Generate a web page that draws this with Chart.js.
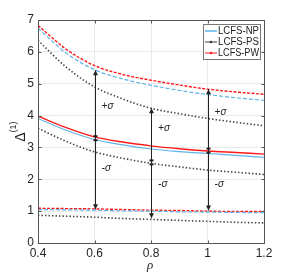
<!DOCTYPE html>
<html>
<head>
<meta charset="utf-8">
<script src="https://cdn.jsdelivr.net/npm/chart.js@4.4.1/dist/chart.umd.min.js"></script>
<style>
  html, body { margin: 0; padding: 0; background: #fff; }
  #wrap { width: 291px; height: 274px; }
</style>
</head>
<body>
<div id="wrap"><canvas id="c" width="291" height="274"></canvas></div>
<script>
// rho values
const rho = [0.4, 0.5, 0.6, 0.7, 0.8, 0.9, 1.0, 1.1, 1.2];

// upper curves (+sigma), dashed
const npUpper = [6.74, 5.96, 5.44, 5.15, 4.95, 4.79, 4.66, 4.56, 4.48];
const psUpper = [6.36, 5.52, 4.90, 4.52, 4.23, 4.06, 3.91, 3.79, 3.68];
const pwUpper = [6.83, 6.08, 5.57, 5.29, 5.11, 4.96, 4.83, 4.74, 4.67];

// mean curves, solid
const npMean = [3.91, 3.54, 3.25, 3.08, 2.95, 2.87, 2.81, 2.75, 2.69];
const psMean = [3.60, 3.19, 2.86, 2.66, 2.50, 2.39, 2.29, 2.22, 2.15];
const pwMean = [3.98, 3.62, 3.33, 3.17, 3.05, 2.96, 2.89, 2.84, 2.79];

// lower curves (-sigma)
const npLower = [1.05, 1.04, 1.03, 1.01, 1.00, 0.98, 0.97, 0.96, 0.95];
const psLower = [0.87, 0.84, 0.81, 0.77, 0.74, 0.71, 0.68, 0.65, 0.63];
const pwLower = [1.09, 1.08, 1.07, 1.05, 1.03, 1.02, 1.00, 0.99, 0.99];

// sigma arrows: x, top, mean, bottom
const arrowX = [0.6, 0.8, 1.0];
const arrowTop = [5.42, 4.23, 4.83];
const arrowMid = [3.29, 2.53, 2.90];
const arrowBot = [1.06, 0.78, 1.02];
// label positions
const plusPos = [[0.625, 4.3], [0.825, 3.6], [1.025, 4.1]];
const minusPos = [[0.625, 2.35], [0.825, 1.85], [1.025, 1.85]];

const xTicks = ['0.4', '0.6', '0.8', '1', '1.2'];
const legendNames = ['LCFS-NP', 'LCFS-PS', 'LCFS-PW'];

const cNP = '#5fb4e8';
const cPS = '#404040';
const cPW = '#ff1a1a';

function pts(ys) {
  return rho.map((x, i) => ({x: x, y: ys[i]}));
}

function ds(ys, color, dash, width) {
  return {
    data: pts(ys),
    borderColor: color,
    borderWidth: width,
    borderDash: dash,
    pointRadius: 0,
    fill: false,
    cubicInterpolationMode: 'monotone'
  };
}

const datasets = [
  ds(npUpper, cNP, [4, 2], 1.2),
  ds(npMean, cNP, [], 1.2),
  ds(npLower, cNP, [4, 2], 1.2),
  ds(psUpper, cPS, [1.4, 2.1], 1.6),
  ds(psMean, cPS, [1.4, 2.1], 1.6),
  ds(psLower, cPS, [1.4, 2.1], 1.6),
  ds(pwUpper, cPW, [3, 1.5], 1.4),
  ds(pwMean, cPW, [], 1.4),
  ds(pwLower, cPW, [3, 1.5], 1.4)
];

// box, inward ticks, arrows, labels, legend
const decor = {
  id: 'decor',
  afterDatasetsDraw(chart) {
    const {ctx, chartArea: a, scales: {x, y}} = chart;
    ctx.save();

    // sigma arrows
    ctx.strokeStyle = '#222';
    ctx.fillStyle = '#222';
    ctx.lineWidth = 1;
    arrowX.forEach((v, i) => {
      const px = Math.round(x.getPixelForValue(v)) + 0.5;
      const t = y.getPixelForValue(arrowTop[i]);
      const m = y.getPixelForValue(arrowMid[i]);
      const b = y.getPixelForValue(arrowBot[i]);
      ctx.beginPath();
      ctx.moveTo(px, t);
      ctx.lineTo(px, b);
      ctx.stroke();
      // heads
      ctx.beginPath();
      ctx.moveTo(px, t); ctx.lineTo(px - 2.5, t + 5); ctx.lineTo(px + 2.5, t + 5); ctx.closePath();
      ctx.fill();
      ctx.beginPath();
      ctx.moveTo(px, b); ctx.lineTo(px - 2.5, b - 5); ctx.lineTo(px + 2.5, b - 5); ctx.closePath();
      ctx.fill();
      // mean tail mark
      ctx.fillRect(px - 2, m - 3, 4, 2);
      ctx.fillRect(px - 2, m + 1, 4, 2);
    });

    ctx.font = 'italic 10px "Liberation Sans", Arial, sans-serif';
    ctx.textAlign = 'left';
    ctx.textBaseline = 'middle';
    plusPos.forEach(p => ctx.fillText('+σ', x.getPixelForValue(p[0]), y.getPixelForValue(p[1])));
    minusPos.forEach(p => ctx.fillText('-σ', x.getPixelForValue(p[0]), y.getPixelForValue(p[1])));

    // axes box
    ctx.strokeStyle = '#555';
    ctx.lineWidth = 1;
    const L = Math.round(a.left) + 0.5, R = Math.round(a.right) + 0.5;
    const T = Math.round(a.top) + 0.5, B = Math.round(a.bottom) + 0.5;
    ctx.strokeRect(L, T, R - L, B - T);
    ctx.beginPath();
    x.ticks.forEach(tk => {
      const px = Math.round(x.getPixelForValue(tk.value)) + 0.5;
      ctx.moveTo(px, B); ctx.lineTo(px, B - 3);
      ctx.moveTo(px, T); ctx.lineTo(px, T + 3);
    });
    y.ticks.forEach(tk => {
      const py = Math.round(y.getPixelForValue(tk.value)) + 0.5;
      ctx.moveTo(L, py); ctx.lineTo(L + 3, py);
      ctx.moveTo(R, py); ctx.lineTo(R - 3, py);
    });
    ctx.stroke();

    // legend
    const lx = 203, ly = 24, lw = 57, lh = 35;
    ctx.fillStyle = '#fff';
    ctx.fillRect(lx, ly, lw, lh);
    ctx.strokeStyle = '#777';
    ctx.strokeRect(lx + 0.5, ly + 0.5, lw, lh);
    const cols = [cNP, cPS, cPW];
    ctx.font = '10px "Liberation Sans", Arial, sans-serif';
    ctx.textBaseline = 'middle';
    legendNames.forEach((n, i) => {
      const yy = ly + 7 + i * 11;
      ctx.strokeStyle = cols[i];
      ctx.lineWidth = i === 0 ? 1.5 : 1;
      ctx.beginPath();
      ctx.moveTo(lx + 2, yy); ctx.lineTo(lx + 14, yy);
      ctx.stroke();
      if (i > 0) {
        ctx.fillStyle = cols[i];
        ctx.beginPath();
        ctx.arc(lx + 8, yy, 1.3, 0, Math.PI * 2);
        ctx.fill();
      }
      ctx.fillStyle = '#222';
      const w = ctx.measureText(n).width;
      ctx.save();
      ctx.translate(lx + 15, yy + 0.5);
      ctx.scale(Math.min(1, 41 / w), 1);
      ctx.fillText(n, 0, 0);
      ctx.restore();
    });

    // axis titles
    ctx.fillStyle = '#222';
    ctx.font = 'italic 13px "Liberation Serif", "DejaVu Serif", serif';
    ctx.textAlign = 'center';
    ctx.fillText('ρ', 150, 266);
    ctx.save();
    ctx.translate(21, 137);
    ctx.rotate(-Math.PI / 2);
    ctx.font = '14px "Liberation Sans", Arial, sans-serif';
    ctx.fillText('Δ', 0, 0);
    ctx.font = '9px "Liberation Sans", Arial, sans-serif';
    ctx.fillText('(1)', 10, -7);
    ctx.restore();

    ctx.restore();
  }
};

new Chart(document.getElementById('c'), {
  type: 'line',
  data: {datasets: datasets},
  options: {
    responsive: false,
    animation: false,
    layout: {padding: {left: 0, right: 27, top: 20, bottom: 0}},
    plugins: {legend: {display: false}, tooltip: {enabled: false}},
    scales: {
      x: {
        type: 'linear',
        min: 0.4,
        max: 1.2,
        ticks: {
          stepSize: 0.2,
          color: '#262626',
          font: {size: 12, family: '"Liberation Sans", Arial, sans-serif'},
          padding: 3,
          maxRotation: 0,
          callback: (v, i) => xTicks[i]
        },
        grid: {color: '#e9e9e9', drawTicks: false},
        border: {display: false},
        afterFit(s) { s.height = 31; }
      },
      y: {
        min: 0,
        max: 7,
        ticks: {
          stepSize: 1,
          color: '#262626',
          font: {size: 12, family: '"Liberation Sans", Arial, sans-serif'},
          padding: 4
        },
        grid: {color: '#e9e9e9', drawTicks: false},
        border: {display: false},
        afterFit(s) { s.width = 38; }
      }
    }
  },
  plugins: [decor]
});
</script>
</body>
</html>
